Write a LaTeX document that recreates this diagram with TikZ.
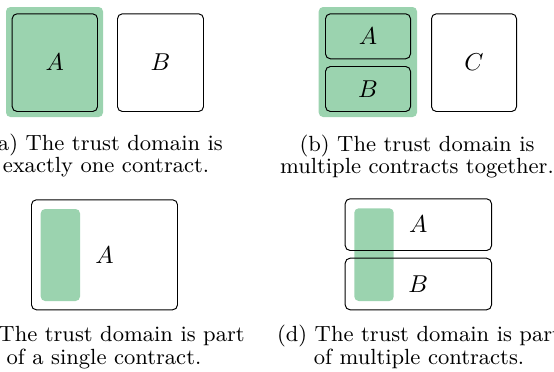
\documentclass[tikz,border=0pt]{standalone}
\usepackage{fontspec}
\definecolor{trust}{RGB}{155,211,175}
\newdimen\pxu
\pxu=0.4098pt
\begin{document}
\begin{tikzpicture}[x=0.4098pt,y=-0.4098pt,
  contract/.style={draw=black, line width=0.4pt, rounded corners=2pt, inner sep=0pt, font=\normalsize},
  trustzone/.style={fill=trust, rounded corners=1.8pt, inner sep=0pt},
  captxt/.style={anchor=base, inner sep=0pt, font=\fontsize{9}{11}\selectfont}]
\useasboundingbox (0,0) rectangle (554,371);
% (a)
\node[trustzone, minimum width=97\pxu, minimum height=110\pxu] (ta) at (54.5,62) {};
\node[contract, minimum width=85.3\pxu, minimum height=97.7\pxu] (aA) at (54.85,62.65) {$A$};
\node[contract, minimum width=86\pxu, minimum height=97.7\pxu] (aB) at (160.5,62.65) {$B$};
\node[captxt] (ca1) at (106,150) {(a) The trust domain is};
\node[captxt] (ca2) at (106,172) {exactly one contract.};
% (b)
\node[trustzone, minimum width=98.3\pxu, minimum height=110\pxu] (tb) at (367.85,62) {};
\node[contract, minimum width=85\pxu, minimum height=45\pxu] (bA) at (368,36.3) {$A$};
\node[contract, minimum width=85\pxu, minimum height=45\pxu] (bB) at (368,89) {$B$};
\node[contract, minimum width=85\pxu, minimum height=97.7\pxu] (bC) at (474,62.65) {$C$};
\node[captxt] (cb1) at (417,151) {(b) The trust domain is};
\node[captxt] (cb2) at (417,173) {multiple contracts together.};
% (c)
\node[trustzone, minimum width=39.3\pxu, minimum height=92\pxu] (tc) at (60.35,255) {};
\node[contract, minimum width=146\pxu, minimum height=110\pxu] (cA) at (104.5,254.8) {$A$};
\node[captxt] (cc1) at (104,341) {(c) The trust domain is part};
\node[captxt] (cc2) at (104,364) {of a single contract.};
% (d)
\node[trustzone, minimum width=39.4\pxu, minimum height=92.7\pxu] (td) at (374,254.65) {};
\node[contract, minimum width=146.3\pxu, minimum height=51.7\pxu] (dA) at (418.35,224.65) {$A$};
\node[contract, minimum width=146.3\pxu, minimum height=51.6\pxu] (dB) at (418.35,284) {$B$};
\node[captxt] (cd1) at (419,341) {(d) The trust domain is part};
\node[captxt] (cd2) at (419,364) {of multiple contracts.};
\end{tikzpicture}
\end{document}
